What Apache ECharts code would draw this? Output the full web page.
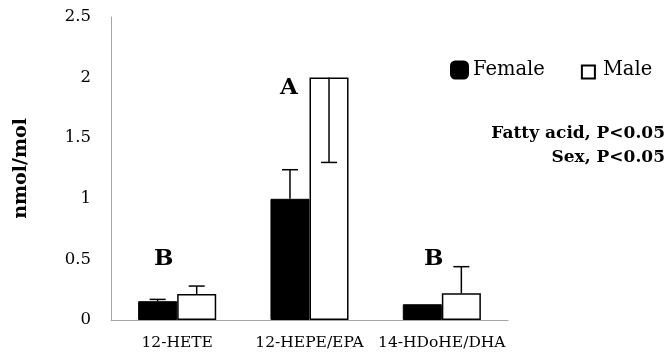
<!DOCTYPE html>
<html><head><meta charset="utf-8">
<script src="https://cdn.jsdelivr.net/npm/echarts@6/dist/echarts.min.js"></script>
<style>html,body{margin:0;padding:0;background:#fff}#c{width:667px;height:358px}</style>
</head><body><div id="c"></div>
<script>
const categories = ['12-HETE', '12-HEPE/EPA', '14-HDoHE/DHA'];
const femaleValues = [0.155, 1.0, 0.13];
const femaleErrorEnd = [0.17, 1.24, null];
const maleValues = [0.215, 2.0, 0.22];
const maleErrorEnd = [0.28, 1.30, 0.44];
const yMin = 0, yMax = 2.5, yInterval = 0.5;
const groupLetters = ['B', 'A', 'B'];
const statsText = ['Fatty acid, P<0.05', 'Sex, P<0.05'];

const BAR_FRAC = 0.295;
const SERIF = 'DejaVu Serif';

function errData(vals, ends) {
  return vals.map((v, i) => [i, v, ends[i] == null ? NaN : ends[i]]);
}
function errRender(side) {
  return function (params, api) {
    const i = api.value(0), v = api.value(1), e = api.value(2);
    if (isNaN(e)) return null;
    const band = api.size([1, 0])[0];
    const off = band * BAR_FRAC / 2 * side;
    const p0 = api.coord([i, v]);
    const p1 = api.coord([i, e]);
    const x = p0[0] + off;
    const cap = 8;
    const st = { stroke: '#000', lineWidth: 1.5 };
    return {
      type: 'group',
      children: [
        { type: 'line', shape: { x1: x, y1: p0[1], x2: x, y2: p1[1] }, style: st },
        { type: 'line', shape: { x1: x - cap, y1: p1[1], x2: x + cap, y2: p1[1] }, style: st }
      ]
    };
  };
}

const chart = echarts.init(document.getElementById('c'), null, { renderer: 'canvas' });
chart.setOption({
  animation: false,
  backgroundColor: '#fff',
  grid: { left: 111, right: 159, top: 17, bottom: 38 },
  legend: {
    data: [
      { name: 'Female', icon: 'roundRect' },
      { name: 'Male', icon: 'path://M0,0 M17,0 M1,4 L14,4 L14,17 L1,17 Z' }
    ],
    orient: 'horizontal',
    left: 450, top: 60, width: 217, padding: 0,
    itemWidth: 17, itemHeight: 17, itemGap: 35,
    textStyle: { fontFamily: SERIF, fontSize: 19.5, color: '#000' }
  },
  xAxis: {
    type: 'category',
    data: categories,
    axisLine: { lineStyle: { color: '#a6a6a6', width: 1 } },
    axisTick: { show: false },
    axisLabel: { fontFamily: SERIF, fontSize: 15.5, color: '#000', margin: 15, interval: 0 }
  },
  yAxis: {
    type: 'value',
    min: yMin, max: yMax, interval: yInterval,
    name: 'nmol/mol',
    nameLocation: 'middle',
    nameRotate: 90,
    nameGap: 80,
    nameTextStyle: { fontFamily: SERIF, fontWeight: 'bold', fontSize: 19, color: '#000' },
    splitLine: { show: false },
    axisLine: { show: true, lineStyle: { color: '#a6a6a6', width: 1 } },
    axisTick: { show: false },
    axisLabel: { fontFamily: SERIF, fontSize: 16.5, color: '#000', margin: 20 }
  },
  series: [
    {
      name: 'Female', type: 'bar', data: femaleValues,
      barWidth: (BAR_FRAC * 100) + '%', barGap: '0%',
      itemStyle: { color: '#000', borderColor: '#000', borderWidth: 1 }
    },
    {
      name: 'Male', type: 'bar', data: maleValues,
      barWidth: (BAR_FRAC * 100) + '%', barGap: '0%',
      itemStyle: { color: '#fff', borderColor: '#000', borderWidth: 1.5 }
    },
    {
      name: 'FemaleErr', type: 'custom', z: 5, silent: true,
      data: errData(femaleValues, femaleErrorEnd),
      renderItem: errRender(-1)
    },
    {
      name: 'MaleErr', type: 'custom', z: 5, silent: true,
      data: errData(maleValues, maleErrorEnd),
      renderItem: errRender(1)
    }
  ],
  graphic: [
    { type: 'text', left: 154, top: 248, style: { text: groupLetters[0], font: 'bold 23px "DejaVu Serif"', fill: '#000' } },
    { type: 'text', left: 280, top: 77, style: { text: groupLetters[1], font: 'bold 23px "DejaVu Serif"', fill: '#000' } },
    { type: 'text', left: 424, top: 248, style: { text: groupLetters[2], font: 'bold 23px "DejaVu Serif"', fill: '#000' } },
    { type: 'text', right: 2, top: 125, style: { text: statsText[0], font: 'bold 17px "DejaVu Serif"', fill: '#000', textAlign: 'right' } },
    { type: 'text', right: 2, top: 149, style: { text: statsText[1], font: 'bold 17px "DejaVu Serif"', fill: '#000', textAlign: 'right' } }
  ]
});
</script>
</body></html>
